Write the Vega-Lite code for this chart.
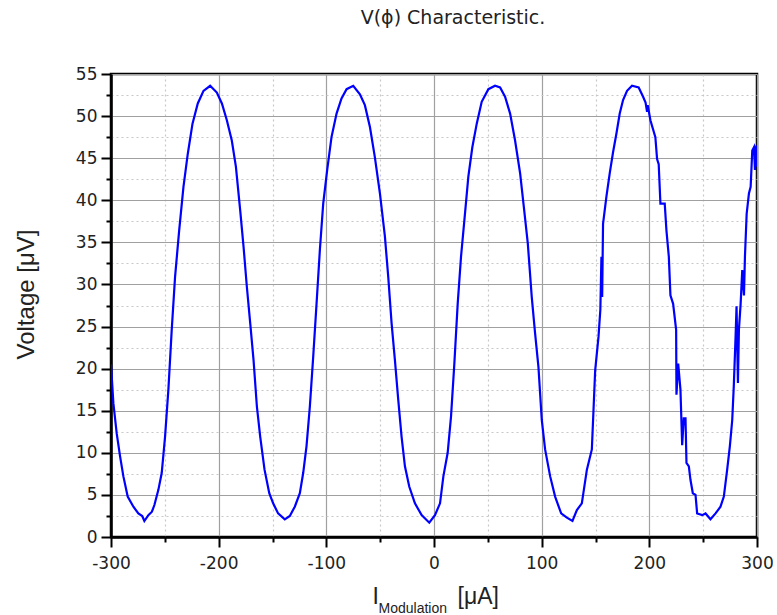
{
  "$schema": "https://vega.github.io/schema/vega-lite/v6.json",
  "width": 646,
  "height": 463,
  "autosize": "none",
  "padding": {"left": 111, "top": 74, "right": 20, "bottom": 78},
  "background": "white",
  "title": {
    "text": "V(ϕ) Characteristic.",
    "font": "DejaVu Sans",
    "fontSize": 19,
    "fontWeight": "normal",
    "color": "#222",
    "anchor": "middle",
    "frame": "group",
    "dx": 19,
    "offset": 37
  },
  "data": {
    "values": [
      {"I": -300, "V": 20.5}, {"I": -297.8, "V": 15.9}, {"I": -294.7, "V": 12.3}, {"I": -291.6, "V": 9.6},
      {"I": -288.5, "V": 7.2}, {"I": -284.5, "V": 4.8}, {"I": -279.2, "V": 3.6}, {"I": -274.6, "V": 2.8},
      {"I": -271, "V": 2.5}, {"I": -269, "V": 1.9}, {"I": -265.3, "V": 2.6}, {"I": -262, "V": 3.0},
      {"I": -259.7, "V": 3.8}, {"I": -256, "V": 5.6}, {"I": -252.9, "V": 7.6}, {"I": -249.8, "V": 11.9},
      {"I": -246.7, "V": 17.5}, {"I": -243.6, "V": 24.6}, {"I": -240.5, "V": 30.9}, {"I": -236.7, "V": 36.4},
      {"I": -232.7, "V": 41.6}, {"I": -228.7, "V": 45.5}, {"I": -224.3, "V": 49.1}, {"I": -219.4, "V": 51.5},
      {"I": -214.1, "V": 53.0}, {"I": -207.9, "V": 53.6}, {"I": -201.7, "V": 52.8}, {"I": -197, "V": 51.5},
      {"I": -192.4, "V": 49.5}, {"I": -187.8, "V": 47.1}, {"I": -184, "V": 44.0}, {"I": -180, "V": 38.8},
      {"I": -176.9, "V": 34.5}, {"I": -173.8, "V": 29.7}, {"I": -170.7, "V": 25.4}, {"I": -167.6, "V": 21.0},
      {"I": -164.5, "V": 15.5}, {"I": -161.4, "V": 11.9}, {"I": -157.4, "V": 8.0}, {"I": -153, "V": 5.2},
      {"I": -149.4, "V": 4.0}, {"I": -144.8, "V": 2.8}, {"I": -138.6, "V": 2.1}, {"I": -133.9, "V": 2.5},
      {"I": -129.3, "V": 3.6}, {"I": -124.6, "V": 5.2}, {"I": -121.5, "V": 7.6}, {"I": -118.4, "V": 10.8},
      {"I": -115.3, "V": 15.5}, {"I": -112.2, "V": 21.4}, {"I": -109.1, "V": 27.7}, {"I": -106, "V": 34.1},
      {"I": -102.9, "V": 39.6}, {"I": -99.2, "V": 43.6}, {"I": -95.2, "V": 47.5}, {"I": -90.5, "V": 50.3},
      {"I": -85.9, "V": 52.1}, {"I": -81.2, "V": 53.2}, {"I": -75, "V": 53.6}, {"I": -68.8, "V": 52.6},
      {"I": -64.2, "V": 51.3}, {"I": -59.5, "V": 48.7}, {"I": -54.9, "V": 45.1}, {"I": -50.2, "V": 40.8},
      {"I": -45.6, "V": 35.7}, {"I": -42.5, "V": 30.9}, {"I": -39.4, "V": 25.4}, {"I": -36.3, "V": 21.0},
      {"I": -33.2, "V": 16.3}, {"I": -30.1, "V": 11.9}, {"I": -27, "V": 8.4}, {"I": -23, "V": 6.0},
      {"I": -17.7, "V": 4.0}, {"I": -11.5, "V": 2.6}, {"I": -4.4, "V": 1.7}, {"I": 0.9, "V": 2.6},
      {"I": 5.6, "V": 4.0}, {"I": 8.7, "V": 7.2}, {"I": 12.7, "V": 10.0}, {"I": 15.8, "V": 14.3},
      {"I": 18.9, "V": 20.6}, {"I": 22, "V": 27.7}, {"I": 25.1, "V": 33.3}, {"I": 28.2, "V": 37.6},
      {"I": 31.9, "V": 42.8}, {"I": 35.6, "V": 46.3}, {"I": 39.7, "V": 49.1}, {"I": 44.3, "V": 51.7},
      {"I": 50.5, "V": 53.2}, {"I": 56.7, "V": 53.6}, {"I": 61.4, "V": 53.4}, {"I": 66, "V": 52.3},
      {"I": 70.7, "V": 50.3}, {"I": 75.3, "V": 47.1}, {"I": 80, "V": 43.2}, {"I": 83.1, "V": 39.6},
      {"I": 87.1, "V": 34.9}, {"I": 90.8, "V": 28.5}, {"I": 93.9, "V": 24.2}, {"I": 97, "V": 20.2},
      {"I": 100.1, "V": 13.9}, {"I": 103.2, "V": 10.4}, {"I": 107.9, "V": 7.2}, {"I": 112.5, "V": 4.8},
      {"I": 118.1, "V": 2.8}, {"I": 123.4, "V": 2.3}, {"I": 128.6, "V": 1.9}, {"I": 132.7, "V": 3.2},
      {"I": 137.3, "V": 4.0}, {"I": 142, "V": 8.0}, {"I": 146.6, "V": 10.4}, {"I": 149.7, "V": 19.8},
      {"I": 152.8, "V": 23.8}, {"I": 154.5, "V": 27.0}, {"I": 155.5, "V": 33.3}, {"I": 156.2, "V": 28.5},
      {"I": 157, "V": 37.2}, {"I": 160.1, "V": 40.4}, {"I": 163.2, "V": 43.2}, {"I": 166.3, "V": 45.7},
      {"I": 169.4, "V": 47.9}, {"I": 172.5, "V": 50.3}, {"I": 175.6, "V": 51.9}, {"I": 179.3, "V": 53.0},
      {"I": 183.9, "V": 53.6}, {"I": 190.1, "V": 53.4}, {"I": 194.2, "V": 52.3}, {"I": 196.5, "V": 51.6},
      {"I": 197.9, "V": 50.5}, {"I": 198.5, "V": 51.3}, {"I": 201, "V": 49.5}, {"I": 205.6, "V": 47.5},
      {"I": 207.2, "V": 44.9}, {"I": 208.7, "V": 44.3}, {"I": 210.3, "V": 39.6}, {"I": 214.3, "V": 39.6},
      {"I": 215.9, "V": 36.4}, {"I": 218.1, "V": 33.3}, {"I": 219.6, "V": 28.7}, {"I": 222.1, "V": 27.7},
      {"I": 224.9, "V": 24.6}, {"I": 225.2, "V": 16.9}, {"I": 226.8, "V": 20.6}, {"I": 228.9, "V": 17.5},
      {"I": 230.5, "V": 10.9}, {"I": 232, "V": 14.1}, {"I": 233.6, "V": 14.1}, {"I": 234.5, "V": 8.8},
      {"I": 236.7, "V": 8.4}, {"I": 238.2, "V": 6.8}, {"I": 240.4, "V": 5.2}, {"I": 242.9, "V": 5.0},
      {"I": 244.4, "V": 2.8}, {"I": 249.1, "V": 2.6}, {"I": 252.2, "V": 2.8}, {"I": 256.8, "V": 2.1},
      {"I": 261.5, "V": 2.8}, {"I": 266.1, "V": 3.6}, {"I": 269.2, "V": 4.8}, {"I": 272.3, "V": 8.0},
      {"I": 274.8, "V": 10.8}, {"I": 277, "V": 13.9}, {"I": 278.5, "V": 18.1}, {"I": 280.1, "V": 23.8},
      {"I": 281, "V": 27.4}, {"I": 282.3, "V": 18.3}, {"I": 283.2, "V": 24.6}, {"I": 284.8, "V": 27.7},
      {"I": 286.3, "V": 31.7}, {"I": 287.9, "V": 28.7}, {"I": 288.8, "V": 33.3}, {"I": 290.4, "V": 38.4},
      {"I": 292.5, "V": 40.8}, {"I": 294.1, "V": 41.6}, {"I": 295.6, "V": 45.9}, {"I": 297.2, "V": 46.3},
      {"I": 298.1, "V": 43.6}, {"I": 299.3, "V": 46.5}, {"I": 300, "V": 44.0}
    ]
  },
  "encoding": {
    "y": {
      "field": "V",
      "type": "quantitative",
      "scale": {"domain": [0, 55], "nice": false, "zero": false},
      "axis": {
        "values": [0, 2.5, 5, 7.5, 10, 12.5, 15, 17.5, 20, 22.5, 25, 27.5, 30, 32.5, 35, 37.5, 40, 42.5, 45, 47.5, 50, 52.5, 55],
        "labelExpr": "datum.value % 5 === 0 ? '' + datum.value : ''",
        "tickSize": {"condition": {"test": "datum.value % 5 !== 0", "value": 5}, "value": 10},
        "gridDash": {"condition": {"test": "datum.value % 5 !== 0", "value": [2, 3]}, "value": []},
        "gridColor": {"condition": {"test": "datum.value % 5 !== 0", "value": "#c8c8c8"}, "value": "#a0a0a0"},
        "gridWidth": 1.2,
        "labelPadding": 4,
        "title": "Voltage [μV]",
        "titleFont": "Liberation Sans",
        "titleFontSize": 24,
        "titleAngle": 270,
        "titleAlign": "center",
        "titleBaseline": "alphabetic",
        "titleX": -78,
        "titleY": 220
      }
    }
  },
  "layer": [
    {
      "mark": {"type": "line", "color": "#0000ff", "strokeWidth": 2.2, "clip": true},
      "encoding": {
        "x": {
          "field": "I",
          "type": "quantitative",
          "scale": {"domain": [-300, 300], "nice": false, "zero": false},
          "axis": {
            "orient": "bottom",
            "values": [-300, -250, -200, -150, -100, -50, 0, 50, 100, 150, 200, 250, 300],
            "labelExpr": "datum.value % 100 === 0 ? '' + datum.value : ''",
            "tickSize": {"condition": {"test": "datum.value % 100 !== 0", "value": 5}, "value": 10},
            "gridDash": {"condition": {"test": "datum.value % 100 !== 0", "value": [2, 3]}, "value": []},
            "gridColor": {"condition": {"test": "datum.value % 100 !== 0", "value": "#c8c8c8"}, "value": "#a0a0a0"},
            "gridWidth": 1.2,
            "labelPadding": 8,
            "labelFlush": false,
            "title": "I",
            "titleFont": "Liberation Sans",
            "titleFontSize": 23,
            "titleAlign": "left",
            "titleAnchor": "start",
            "titleBaseline": "alphabetic",
            "titleX": 261,
            "titleY": 66
          }
        }
      }
    },
    {
      "mark": {"type": "line", "color": "#0000ff", "strokeWidth": 2, "opacity": 0},
      "encoding": {
        "x": {
          "field": "I",
          "type": "quantitative",
          "scale": {"domain": [-300, 300], "nice": false, "zero": false},
          "axis": {
            "orient": "bottom",
            "labels": false,
            "ticks": false,
            "domain": false,
            "grid": false,
            "title": "Modulation",
            "titleFont": "Liberation Sans",
            "titleFontSize": 14,
            "titleAlign": "left",
            "titleAnchor": "start",
            "titleBaseline": "alphabetic",
            "titleX": 267,
            "titleY": 75
          }
        }
      }
    },
    {
      "mark": {"type": "line", "color": "#0000ff", "strokeWidth": 2, "opacity": 0},
      "encoding": {
        "x": {
          "field": "I",
          "type": "quantitative",
          "scale": {"domain": [-300, 300], "nice": false, "zero": false},
          "axis": {
            "orient": "bottom",
            "labels": false,
            "ticks": false,
            "domain": false,
            "grid": false,
            "title": "[μA]",
            "titleFont": "Liberation Sans",
            "titleFontSize": 23,
            "titleAlign": "left",
            "titleAnchor": "start",
            "titleBaseline": "alphabetic",
            "titleX": 346,
            "titleY": 66
          }
        }
      }
    }
  ],
  "resolve": {"axis": {"x": "independent"}},
  "config": {
    "view": {"stroke": "black", "strokeWidth": 2.5},
    "axis": {
      "domainColor": "black",
      "domainWidth": 2.5,
      "tickColor": "black",
      "tickWidth": 2,
      "labelFont": "DejaVu Sans",
      "labelFontSize": 17,
      "labelColor": "#222",
      "titleColor": "#222",
      "titleFontWeight": "normal"
    }
  }
}
